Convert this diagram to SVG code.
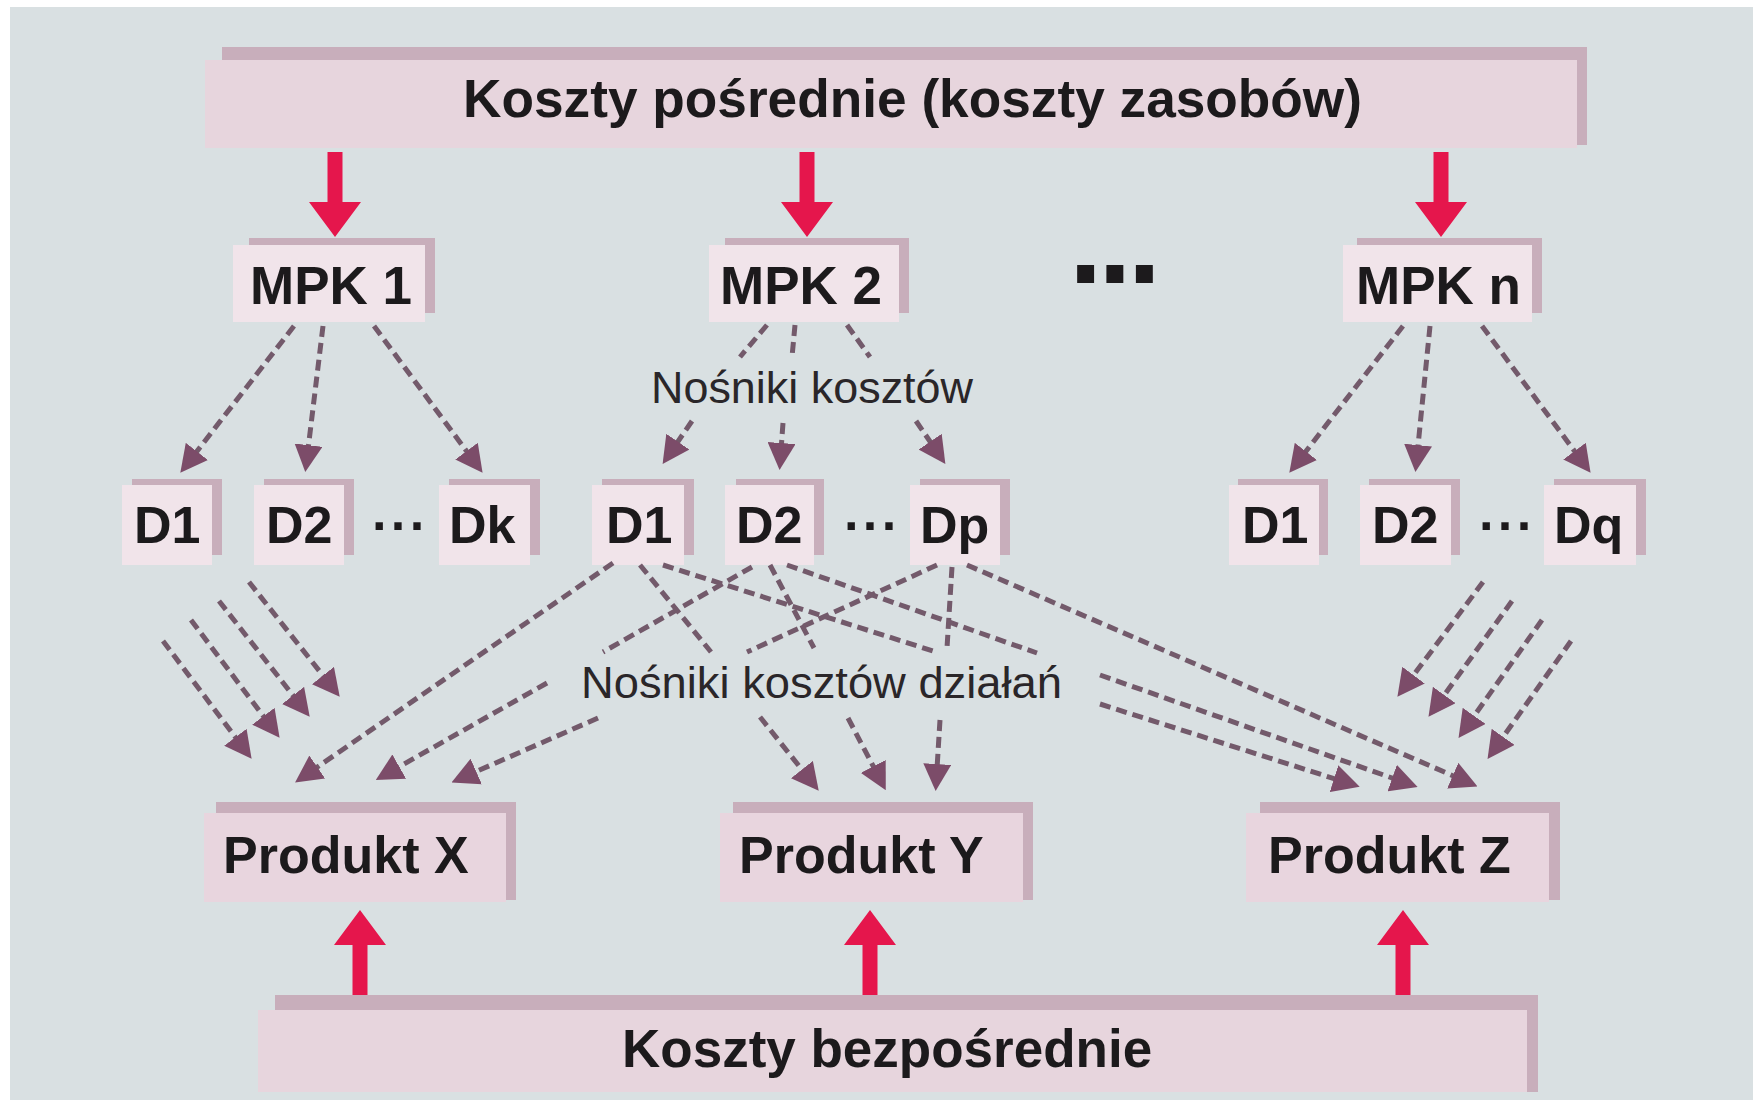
<svg xmlns="http://www.w3.org/2000/svg" width="1762" height="1104" viewBox="0 0 1762 1104">
  <style>
    .bg { fill: #d9e0e2; }
    .bar { fill: #e7d5dd; }
    .box { fill: #f1e4ea; }
    .prod { fill: #e8d5de; }
    .edge { fill: #c8aebb; }
    .lbl { font-family: "Liberation Sans", Arial, sans-serif; font-weight: bold; fill: #1c1a1c; }
    .big { font-size: 53px; }
    .mid { font-size: 52px; }
    .note { font-family: "Liberation Sans", Arial, sans-serif; font-size: 44px; fill: #2a2629; }
    .dash { fill: none; stroke: #735a6b; stroke-width: 5; stroke-dasharray: 11 6; }
    .dash.arr { marker-end: url(#tri); }
    .red { fill: #e5164c; }
  </style>
  <defs>
    <marker id="tri" markerUnits="userSpaceOnUse" markerWidth="27" markerHeight="28" refX="21" refY="14" orient="auto">
      <path d="M0,0 L27,14 L0,28 Z" fill="#7c4c69"/>
    </marker>
  </defs>

  <rect width="1762" height="1104" fill="#ffffff"/>
  <rect class="bg" x="10" y="7" width="1743" height="1093"/>

  <!-- indirect costs bar -->
  <g id="koszty-posrednie">
    <rect class="bar" x="205" y="60" width="1372" height="88"/>
    <rect class="edge" x="222" y="47" width="1365" height="13"/>
    <rect class="edge" x="1577" y="47" width="10" height="98"/>
    <text class="lbl big" x="463" y="117" textLength="899" lengthAdjust="spacingAndGlyphs">Koszty pośrednie (koszty zasobów)</text>
  </g>

  <!-- cost centres -->
  <g id="mpk1">
    <rect class="box" x="233" y="245" width="192" height="77"/>
    <rect class="edge" x="249" y="238" width="186" height="7"/>
    <rect class="edge" x="425" y="238" width="10" height="75"/>
    <text class="lbl big" x="250" y="304">MPK 1</text>
  </g>
  <g id="mpk2">
    <rect class="box" x="709" y="245" width="190" height="77"/>
    <rect class="edge" x="725" y="238" width="184" height="7"/>
    <rect class="edge" x="899" y="238" width="10" height="75"/>
    <text class="lbl big" x="720" y="304">MPK 2</text>
  </g>
  <g id="mpk-dots">
    <text class="lbl" x="1069" y="283" font-size="120" letter-spacing="-4">...</text>
  </g>
  <g id="mpkn">
    <rect class="box" x="1343" y="245" width="189" height="77"/>
    <rect class="edge" x="1357" y="238" width="185" height="7"/>
    <rect class="edge" x="1532" y="238" width="10" height="75"/>
    <text class="lbl big" x="1356" y="304">MPK n</text>
  </g>

  <!-- activities, group 1 -->
  <g id="g1-d1">
    <rect class="box" x="122" y="485" width="90" height="80"/>
    <rect class="edge" x="132" y="479" width="90" height="6"/>
    <rect class="edge" x="212" y="479" width="10" height="76"/>
    <text class="lbl mid" x="134" y="543">D1</text>
  </g>
  <g id="g1-d2">
    <rect class="box" x="254" y="485" width="90" height="80"/>
    <rect class="edge" x="264" y="479" width="90" height="6"/>
    <rect class="edge" x="344" y="479" width="10" height="76"/>
    <text class="lbl mid" x="266" y="543">D2</text>
  </g>
  <g id="g1-dots"><text class="lbl mid" x="372" y="543" letter-spacing="1.5">···</text></g>
  <g id="g1-dk">
    <rect class="box" x="439" y="485" width="91" height="80"/>
    <rect class="edge" x="449" y="479" width="91" height="6"/>
    <rect class="edge" x="530" y="479" width="10" height="76"/>
    <text class="lbl mid" x="449" y="543">Dk</text>
  </g>

  <!-- activities, group 2 -->
  <g id="g2-d1">
    <rect class="box" x="592" y="485" width="92" height="80"/>
    <rect class="edge" x="602" y="479" width="92" height="6"/>
    <rect class="edge" x="684" y="479" width="10" height="76"/>
    <text class="lbl mid" x="606" y="543">D1</text>
  </g>
  <g id="g2-d2">
    <rect class="box" x="725" y="485" width="89" height="80"/>
    <rect class="edge" x="736" y="479" width="88" height="6"/>
    <rect class="edge" x="814" y="479" width="10" height="76"/>
    <text class="lbl mid" x="736" y="543">D2</text>
  </g>
  <g id="g2-dots"><text class="lbl mid" x="844" y="543" letter-spacing="1.5">···</text></g>
  <g id="g2-dp">
    <rect class="box" x="910" y="485" width="90" height="80"/>
    <rect class="edge" x="920" y="479" width="90" height="6"/>
    <rect class="edge" x="1000" y="479" width="10" height="76"/>
    <text class="lbl mid" x="920" y="543">Dp</text>
  </g>

  <!-- activities, group n -->
  <g id="g3-d1">
    <rect class="box" x="1229" y="485" width="90" height="80"/>
    <rect class="edge" x="1238" y="479" width="90" height="6"/>
    <rect class="edge" x="1319" y="479" width="9" height="76"/>
    <text class="lbl mid" x="1242" y="543">D1</text>
  </g>
  <g id="g3-d2">
    <rect class="box" x="1360" y="485" width="91" height="80"/>
    <rect class="edge" x="1369" y="479" width="91" height="6"/>
    <rect class="edge" x="1451" y="479" width="9" height="76"/>
    <text class="lbl mid" x="1372" y="543">D2</text>
  </g>
  <g id="g3-dots"><text class="lbl mid" x="1479" y="543" letter-spacing="1.5">···</text></g>
  <g id="g3-dq">
    <rect class="box" x="1544" y="485" width="92" height="80"/>
    <rect class="edge" x="1554" y="479" width="92" height="6"/>
    <rect class="edge" x="1636" y="479" width="10" height="76"/>
    <text class="lbl mid" x="1554" y="543">Dq</text>
  </g>

  <!-- products -->
  <g id="produkt-x">
    <rect class="prod" x="204" y="813" width="302" height="89"/>
    <rect class="edge" x="216" y="802" width="300" height="11"/>
    <rect class="edge" x="506" y="802" width="10" height="98"/>
    <text class="lbl mid" x="223" y="873">Produkt X</text>
  </g>
  <g id="produkt-y">
    <rect class="prod" x="720" y="813" width="303" height="89"/>
    <rect class="edge" x="733" y="802" width="300" height="11"/>
    <rect class="edge" x="1023" y="802" width="10" height="98"/>
    <text class="lbl mid" x="739" y="873">Produkt Y</text>
  </g>
  <g id="produkt-z">
    <rect class="prod" x="1246" y="813" width="303" height="89"/>
    <rect class="edge" x="1260" y="802" width="300" height="11"/>
    <rect class="edge" x="1549" y="802" width="11" height="98"/>
    <text class="lbl mid" x="1268" y="873">Produkt Z</text>
  </g>

  <!-- direct costs bar -->
  <g id="koszty-bezposrednie">
    <rect class="bar" x="258" y="1010" width="1269" height="82"/>
    <rect class="edge" x="275" y="995" width="1263" height="15"/>
    <rect class="edge" x="1527" y="995" width="11" height="97"/>
    <text class="lbl big" x="622" y="1067">Koszty bezpośrednie</text>
  </g>

  <!-- driver labels -->
  <g id="label-nosniki">
    <text class="note" x="651" y="403" textLength="322" lengthAdjust="spacingAndGlyphs">Nośniki kosztów</text>
  </g>
  <g id="label-nosniki-dzialan">
    <text class="note" x="581" y="698" textLength="481" lengthAdjust="spacingAndGlyphs">Nośniki kosztów działań</text>
  </g>

  <g id="connectors">
    <!-- resource cost flows -->
    <polygon class="red" points="327.5,152 342.5,152 342.5,202 361,202 335,237 309,202 327.5,202"/>
    <polygon class="red" points="799.5,152 814.5,152 814.5,202 833,202 807,237 781,202 799.5,202"/>
    <polygon class="red" points="1433.5,152 1448.5,152 1448.5,202 1467,202 1441,237 1415,202 1433.5,202"/>
    <!-- direct cost flows -->
    <polygon class="red" points="352.5,995 367.5,995 367.5,945 386,945 360,910 334,945 352.5,945"/>
    <polygon class="red" points="862.5,995 877.5,995 877.5,945 896,945 870,910 844,945 862.5,945"/>
    <polygon class="red" points="1395.5,995 1410.5,995 1410.5,945 1429,945 1403,910 1377,945 1395.5,945"/>

    <!-- MPK 1 to activities -->
    <line class="dash arr" x1="294" y1="326" x2="184" y2="468"/>
    <line class="dash arr" x1="323" y1="326" x2="306" y2="466"/>
    <line class="dash arr" x1="374" y1="326" x2="479" y2="468"/>
    <!-- MPK 2 to activities, broken by the label -->
    <line class="dash" x1="767" y1="325" x2="740" y2="357"/>
    <line class="dash arr" x1="692" y1="421" x2="666" y2="459"/>
    <line class="dash" x1="795" y1="325" x2="792" y2="357"/>
    <line class="dash arr" x1="783" y1="423" x2="780" y2="464"/>
    <line class="dash" x1="847" y1="325" x2="870" y2="357"/>
    <line class="dash arr" x1="916" y1="421" x2="942" y2="459"/>
    <!-- MPK n to activities -->
    <line class="dash arr" x1="1403" y1="326" x2="1293" y2="468"/>
    <line class="dash arr" x1="1430" y1="326" x2="1416" y2="466"/>
    <line class="dash arr" x1="1482" y1="326" x2="1587" y2="468"/>

    <!-- group 1 activities to product X -->
    <line class="dash arr" x1="249" y1="582" x2="336" y2="692"/>
    <line class="dash arr" x1="219" y1="601" x2="306" y2="712"/>
    <line class="dash arr" x1="191" y1="620" x2="276" y2="733"/>
    <line class="dash arr" x1="163" y1="641" x2="248" y2="754"/>
    <!-- group n activities to product Z -->
    <line class="dash arr" x1="1483" y1="582" x2="1401" y2="692"/>
    <line class="dash arr" x1="1512" y1="601" x2="1432" y2="712"/>
    <line class="dash arr" x1="1542" y1="620" x2="1462" y2="733"/>
    <line class="dash arr" x1="1571" y1="641" x2="1491" y2="754"/>

    <!-- group 2 activities to product X -->
    <line class="dash arr" x1="613" y1="563" x2="300" y2="779"/>
    <line class="dash" x1="752" y1="567" x2="603" y2="652"/>
    <line class="dash arr" x1="547" y1="683" x2="381" y2="777"/>
    <line class="dash" x1="937" y1="565" x2="747" y2="652"/>
    <line class="dash arr" x1="598" y1="718" x2="457" y2="780"/>
    <!-- group 2 activities to product Y -->
    <line class="dash" x1="640" y1="565" x2="711" y2="652"/>
    <line class="dash arr" x1="760" y1="717" x2="815" y2="786"/>
    <line class="dash" x1="770" y1="565" x2="814" y2="648"/>
    <line class="dash arr" x1="848" y1="718" x2="883" y2="785"/>
    <line class="dash" x1="952" y1="567" x2="947" y2="648"/>
    <line class="dash arr" x1="940" y1="720" x2="936" y2="785"/>
    <!-- group 2 activities to product Z -->
    <line class="dash" x1="663" y1="565" x2="933" y2="651"/>
    <line class="dash arr" x1="1100" y1="704" x2="1354" y2="785"/>
    <line class="dash" x1="787" y1="565" x2="1037" y2="653"/>
    <line class="dash arr" x1="1100" y1="675" x2="1412" y2="785"/>
    <line class="dash arr" x1="967" y1="565" x2="1472" y2="784"/>
  </g>
</svg>
